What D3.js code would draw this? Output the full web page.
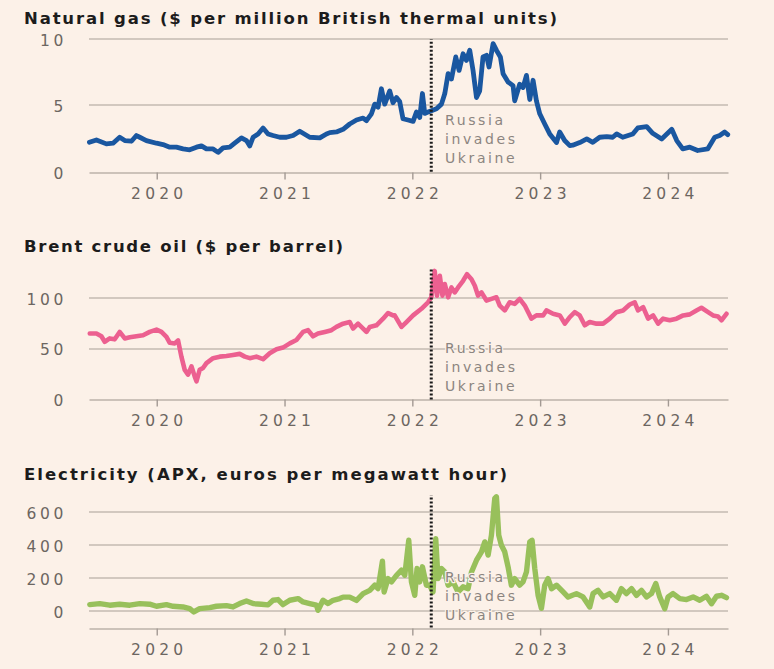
<!DOCTYPE html>
<html><head><meta charset="utf-8">
<script src="https://cdn.jsdelivr.net/npm/d3@7"></script>
<style>html,body{margin:0;padding:0;background:#fcf1e8;}svg{display:block;}</style>
</head><body>
<script>
// ---------- DATA ----------
const yearTicks = [2020, 2021, 2022, 2023, 2024];
const invasionDate = 2022.148; // 24 Feb 2022
const annotationLines = ["Russia", "invades", "Ukraine"];

const gasTitle = "Natural gas ($ per million British thermal units)";
const gasTicks = [0, 5, 10];
const gasYears = [2019.473,2019.528,2019.606,2019.658,2019.710,2019.750,2019.802,2019.841,2019.867,2019.919,2019.998,2020.049,2020.102,2020.154,2020.206,2020.258,2020.311,2020.350,2020.389,2020.441,2020.480,2020.519,2020.571,2020.610,2020.663,2020.702,2020.728,2020.754,2020.793,2020.832,2020.871,2020.910,2020.962,2021.015,2021.067,2021.119,2021.145,2021.197,2021.276,2021.328,2021.354,2021.406,2021.458,2021.510,2021.563,2021.615,2021.641,2021.680,2021.706,2021.732,2021.758,2021.784,2021.823,2021.849,2021.876,2021.901,2021.927,2021.966,2022.006,2022.032,2022.058,2022.079,2022.097,2022.123,2022.149,2022.189,2022.228,2022.254,2022.280,2022.306,2022.340,2022.366,2022.397,2022.423,2022.449,2022.475,2022.502,2022.527,2022.553,2022.580,2022.600,2022.632,2022.658,2022.689,2022.710,2022.749,2022.788,2022.801,2022.840,2022.866,2022.893,2022.919,2022.945,2022.971,2022.997,2023.036,2023.075,2023.128,2023.153,2023.192,2023.232,2023.255,2023.310,2023.365,2023.412,2023.466,2023.521,2023.568,2023.599,2023.646,2023.725,2023.764,2023.834,2023.881,2023.951,2024.030,2024.069,2024.116,2024.171,2024.233,2024.311,2024.366,2024.405,2024.444,2024.468];
const gasValues = [2.22,2.4,2.1,2.15,2.6,2.35,2.3,2.73,2.6,2.35,2.15,2.05,1.85,1.85,1.72,1.65,1.85,1.95,1.72,1.72,1.46,1.8,1.85,2.15,2.55,2.35,1.95,2.6,2.85,3.3,2.85,2.73,2.6,2.6,2.73,3.05,2.9,2.6,2.55,2.85,2.95,3.0,3.2,3.6,3.9,4.05,3.85,4.37,5.1,4.87,6.26,5.1,6.1,5.2,5.6,5.3,4.0,3.9,3.8,4.5,4.1,5.9,4.4,4.5,4.6,4.75,5.1,5.9,7.4,7.0,8.66,7.65,8.9,8.4,9.17,7.65,5.6,6.1,8.66,8.78,7.9,9.67,9.17,8.66,7.4,6.77,6.5,5.35,6.6,6.35,7.27,5.45,6.9,5.35,4.37,3.6,2.85,2.2,3.0,2.35,1.97,2.0,2.2,2.47,2.22,2.6,2.65,2.6,2.85,2.6,2.85,3.3,3.4,2.9,2.47,3.2,2.35,1.72,1.85,1.6,1.72,2.6,2.73,3.0,2.8];

const oilTitle = "Brent crude oil ($ per barrel)";
const oilTicks = [0, 50, 100];
const oilYears = [2019.476,2019.528,2019.567,2019.593,2019.632,2019.671,2019.710,2019.750,2019.789,2019.841,2019.893,2019.945,2019.998,2020.037,2020.076,2020.102,2020.141,2020.167,2020.193,2020.219,2020.245,2020.272,2020.297,2020.311,2020.336,2020.362,2020.389,2020.441,2020.493,2020.545,2020.597,2020.649,2020.689,2020.728,2020.780,2020.832,2020.884,2020.937,2020.988,2021.041,2021.093,2021.145,2021.184,2021.223,2021.262,2021.315,2021.367,2021.406,2021.458,2021.510,2021.536,2021.575,2021.615,2021.641,2021.667,2021.719,2021.771,2021.810,2021.849,2021.862,2021.915,2021.954,2022.006,2022.071,2022.123,2022.149,2022.175,2022.193,2022.215,2022.236,2022.254,2022.280,2022.306,2022.332,2022.358,2022.397,2022.428,2022.463,2022.489,2022.514,2022.541,2022.580,2022.619,2022.658,2022.684,2022.723,2022.762,2022.801,2022.840,2022.880,2022.932,2022.971,2023.023,2023.049,2023.101,2023.154,2023.193,2023.232,2023.271,2023.310,2023.349,2023.388,2023.441,2023.493,2023.545,2023.597,2023.649,2023.701,2023.740,2023.766,2023.806,2023.845,2023.884,2023.923,2023.962,2024.014,2024.067,2024.119,2024.171,2024.223,2024.262,2024.314,2024.353,2024.392,2024.419,2024.458];
const oilValues = [64.7,64.7,62,56.6,59.9,59,66.3,59.9,61,62,63,66.3,68.6,66.3,61.5,55.6,55,58,42,29,24.3,32.4,22.6,17.8,29,30.8,35.6,40.5,42,42.7,43.7,44.7,42,40.5,42,39.5,45.3,49.2,50.9,55,58.3,66.3,68,62,64.7,66.3,68,71.2,74.4,76,69.6,74.4,69.6,66.3,71.2,72.8,79.3,84.8,82.5,82.5,71.2,76,82.5,89,95.4,100.3,126.2,101.9,121.4,101.9,113.3,100.3,110,105.1,110,116.5,123,118.1,111.7,101.9,105.1,97.1,98.7,100.3,92.2,87.4,95.4,93.8,98.7,92.2,79.3,82.5,82.5,87.4,84.1,82.5,74.4,80.9,85.7,82.5,72.8,76,74.4,74.4,79.3,85.7,87.4,93.2,95.4,87.4,90.6,79.3,82.5,74.4,79.3,77.7,79.3,82.5,83.5,87.4,90,85.7,82.5,81.5,77.7,84.1];

const elecTitle = "Electricity (APX, euros per megawatt hour)";
const elecTicks = [0, 200, 400, 600];
const elecYears = [2019.476,2019.554,2019.632,2019.710,2019.789,2019.867,2019.945,2019.998,2020.076,2020.128,2020.206,2020.258,2020.290,2020.336,2020.415,2020.467,2020.545,2020.597,2020.649,2020.702,2020.754,2020.819,2020.871,2020.910,2020.949,2020.988,2021.041,2021.106,2021.145,2021.197,2021.250,2021.262,2021.301,2021.340,2021.380,2021.432,2021.458,2021.510,2021.563,2021.615,2021.667,2021.706,2021.732,2021.766,2021.779,2021.810,2021.837,2021.876,2021.915,2021.941,2021.972,2021.993,2022.019,2022.037,2022.058,2022.079,2022.110,2022.136,2022.162,2022.183,2022.201,2022.228,2022.254,2022.280,2022.319,2022.358,2022.397,2022.436,2022.463,2022.502,2022.541,2022.567,2022.593,2022.619,2022.645,2022.658,2022.676,2022.697,2022.723,2022.749,2022.775,2022.801,2022.840,2022.866,2022.893,2022.919,2022.937,2022.958,2022.984,2023.010,2023.036,2023.062,2023.089,2023.128,2023.180,2023.219,2023.284,2023.336,2023.388,2023.414,2023.453,2023.493,2023.545,2023.597,2023.636,2023.675,2023.715,2023.754,2023.793,2023.832,2023.871,2023.905,2023.936,2023.975,2024.001,2024.040,2024.093,2024.145,2024.197,2024.249,2024.301,2024.341,2024.380,2024.419,2024.458];
const elecValues = [38.6,44.6,35,41,35,44.6,41,28.5,38.6,28.5,24.3,14.3,-6,14.3,20.4,28.5,32.3,24.3,44.6,60.6,44.6,41,36.8,64.8,69,38.6,64.8,75,54.6,44.6,35,4,64.8,44.6,64.8,75,84,84,64,105,125,156,135,301,115,196,176,216,247,216,428,176,95,257,176,267,156,156,115,438,196,257,236,156,176,115,146,135,236,307,358,418,338,459,681,691,459,398,358,267,156,196,156,176,236,418,428,257,95,16,156,196,135,156,115,84,105,85,24,105,125,85,105,65,135,105,135,95,125,85,105,166,85,14,85,105,75,69,85,65,89,44,89,95,81];

// ---------- LAYOUT ----------
const W = 774, H = 669;
const BG = "#fcf1e8";
const svg = d3.select("body").append("svg").attr("width", W).attr("height", H);
svg.append("rect").attr("width", W).attr("height", H).attr("fill", BG);

const x = d3.scaleLinear().domain([2019.47, 2024.47]).range([89, 728]);

const panels = [
  {title: gasTitle, years: gasYears, values: gasValues, ticks: gasTicks, domain: [0, 10], range: [171.7, 39.2],
   color: "#1a57a0", width: 4.8, titleY: 23.5, titleW: 533, top: 10, annY: [120, 139, 158]},
  {title: oilTitle, years: oilYears, values: oilValues, ticks: oilTicks, domain: [0, 100], range: [399.4, 297.6],
   color: "#ec6090", width: 4.6, titleY: 251.5, titleW: 319, top: 129, annY: [348, 367, 386]},
  {title: elecTitle, years: elecYears, values: elecValues, ticks: elecTicks, domain: [-100, 700], range: [627.5, 495.3],
   color: "#98c05b", width: 5.4, titleY: 480, titleW: 483, top: 700, annY: [577, 596, 615]}
];

panels.forEach(p => {
  const y = d3.scaleLinear().domain(p.domain).range(p.range);
  const g = svg.append("g");

  // title
  g.append("text").attr("x", 24).attr("y", p.titleY)
    .attr("font-family", "DejaVu Sans").attr("font-weight", "bold").attr("font-size", 16.5)
    .attr("fill", "#1c1c1c").attr("textLength", p.titleW).attr("lengthAdjust", "spacing")
    .text(p.title);

  // gridlines drawn as thin filled bands
  g.selectAll("rect.grid").data(p.ticks.filter(v => v !== p.domain[0])).enter().append("rect")
    .attr("class", "grid")
    .attr("x", x.range()[0]).attr("width", x.range()[1] - x.range()[0])
    .attr("y", d => Math.round(y(d)) - 1).attr("height", 2)
    .attr("fill", "#d2c8bf");

  // y labels
  g.selectAll("text.yl").data(p.ticks).enter().append("text")
    .attr("class", "yl")
    .attr("x", 67).attr("y", d => y(d) + 1.5).attr("dy", "0.35em")
    .attr("text-anchor", "end").attr("font-family", "DejaVu Sans").attr("font-size", 15.5)
    .attr("letter-spacing", 3.6).attr("fill", "#6c6661")
    .text(d => d);

  // x axis
  const ax = g.append("g").attr("transform", `translate(0,${Math.round(y(p.domain[0])) + 0.5})`)
    .call(d3.axisBottom(x).tickValues(yearTicks).tickSize(7).tickSizeOuter(0).tickPadding(8).tickFormat(d3.format("d")));
  ax.select(".domain").attr("stroke", "#bcb2aa").attr("stroke-width", 1.6);
  ax.selectAll(".tick line").attr("stroke", "#a39a93").attr("stroke-width", 1.4);
  ax.selectAll(".tick text").attr("font-family", "DejaVu Sans").attr("font-size", 15.5)
    .attr("letter-spacing", 4.2).attr("fill", "#6c6661").attr("dx", 2);

  // series line
  const pts = p.years.map((t, i) => [t, p.values[i]]);
  g.append("path").datum(pts)
    .attr("d", d3.line().x(d => x(d[0])).y(d => y(d[1])))
    .attr("fill", "none").attr("stroke", p.color).attr("stroke-width", p.width)
    .attr("stroke-linejoin", "round").attr("stroke-linecap", "round");

  // invasion marker
  g.append("line").attr("x1", x(invasionDate)).attr("x2", x(invasionDate))
    .attr("y1", y(p.domain[0])).attr("y2", y(p.top))
    .attr("stroke", "#1a1a1a").attr("stroke-width", 3).attr("stroke-dasharray", "2,2");

  // annotation
  g.selectAll("text.ann").data(annotationLines).enter().append("text")
    .attr("class", "ann")
    .attr("x", 445).attr("y", (d, i) => p.annY[i]).attr("dy", "0.35em")
    .attr("font-family", "DejaVu Sans").attr("font-size", 14).attr("letter-spacing", 2.6)
    .attr("fill", "#8c8580").attr("stroke", BG).attr("stroke-width", 2.5)
    .attr("paint-order", "stroke").attr("stroke-linejoin", "round")
    .text(d => d);
});
</script>
</body></html>
